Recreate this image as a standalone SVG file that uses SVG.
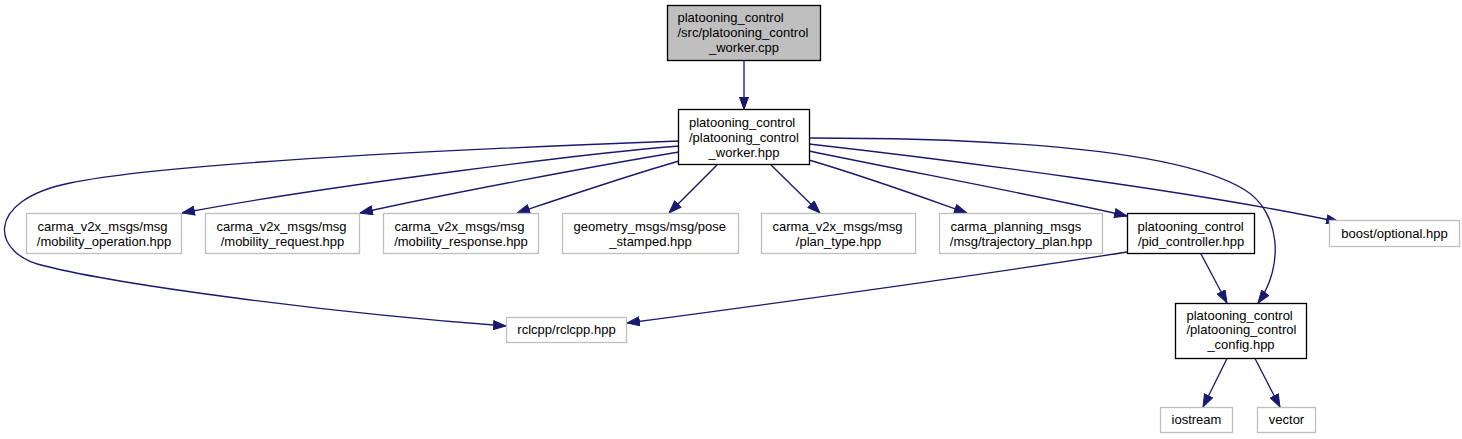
<svg xmlns="http://www.w3.org/2000/svg" width="1462" height="439" viewBox="0 0 1462 439">
<style>
  .n rect { fill: #ffffff; stroke: #000000; stroke-width: 1.33; }
  .n.g rect { stroke: #bfbfbf; }
  .n.root rect { fill: #bfbfbf; }
  text { font-family: "Liberation Sans", Arial, Helvetica, sans-serif; font-size: 13px; fill: #000000; }
  .s { text-anchor: start; }
  .m { text-anchor: middle; }
  #edges path { fill: none; stroke: #191970; stroke-width: 1.33; marker-end: url(#arr); }
</style>
<defs>
  <marker id="arr" markerUnits="userSpaceOnUse" markerWidth="13" markerHeight="10" viewBox="0 0 13 10" refX="13" refY="5" orient="auto">
    <path d="M0.5,0.5 L13,5 L0.5,9.5 Z" fill="#191970" stroke="#191970" stroke-width="1"/>
  </marker>
</defs>
<rect width="1462" height="439" fill="#ffffff"/>

<g id="edges">
  <path d="M744,61 L744,109.5"/>
  <path d="M679,141 C545,146 180,160 70,183 C-18,201 -8,255 45,266 C120,285 330,313 506,326"/>
  <path d="M679,146 C600,152 330,185 182,213"/>
  <path d="M679,152 C600,165 440,195 360,213"/>
  <path d="M679,161 C630,175 565,197 517,213"/>
  <path d="M717,165 L669,213"/>
  <path d="M771,165 L820,213"/>
  <path d="M809,160 C870,178 930,200 967,213"/>
  <path d="M809,151 C900,170 1050,198 1127,216"/>
  <path d="M809,144 C950,160 1200,192 1339,222"/>
  <path d="M809,138 C1000,138 1180,150 1245,190 C1280,212 1285,265 1258,303"/>
  <path d="M1127,252 C1000,272 800,300 627,323"/>
  <path d="M1201,254 L1227,303"/>
  <path d="M1227,358.5 L1203,407"/>
  <path d="M1255,358.5 L1280,407"/>
</g>

<g id="node_root" class="n root">
  <rect x="667.5" y="5.5" width="153" height="55"/>
  <text class="s" x="677.5" y="21.5">platooning_control</text>
  <text class="s" x="677.5" y="36.5">/src/platooning_control</text>
  <text class="m" x="744" y="51.5">_worker.cpp</text>
</g>
<g id="node_worker" class="n">
  <rect x="678.5" y="109.5" width="131" height="55"/>
  <text class="s" x="689" y="126.5">platooning_control</text>
  <text class="s" x="689" y="141.5">/platooning_control</text>
  <text class="m" x="744" y="156.5">_worker.hpp</text>
</g>
<g id="node_mob_op" class="n g">
  <rect x="26.5" y="213.5" width="155" height="40"/>
  <text class="s" x="37.5" y="230.5">carma_v2x_msgs/msg</text>
  <text class="m" x="104" y="245.5">/mobility_operation.hpp</text>
</g>
<g id="node_mob_req" class="n g">
  <rect x="205.5" y="213.5" width="154" height="40"/>
  <text class="s" x="216.5" y="230.5">carma_v2x_msgs/msg</text>
  <text class="m" x="282.5" y="245.5">/mobility_request.hpp</text>
</g>
<g id="node_mob_resp" class="n g">
  <rect x="383.5" y="213.5" width="155" height="40"/>
  <text class="s" x="394.5" y="230.5">carma_v2x_msgs/msg</text>
  <text class="m" x="461" y="245.5">/mobility_response.hpp</text>
</g>
<g id="node_geometry" class="n g">
  <rect x="562.5" y="213.5" width="176" height="40"/>
  <text class="s" x="573.5" y="230.5">geometry_msgs/msg/pose</text>
  <text class="m" x="650.5" y="245.5">_stamped.hpp</text>
</g>
<g id="node_plan_type" class="n g">
  <rect x="761.5" y="213.5" width="154" height="40"/>
  <text class="s" x="772.5" y="230.5">carma_v2x_msgs/msg</text>
  <text class="m" x="838.5" y="245.5">/plan_type.hpp</text>
</g>
<g id="node_trajectory" class="n g">
  <rect x="939.5" y="213.5" width="163" height="40"/>
  <text class="s" x="950.5" y="230.5">carma_planning_msgs</text>
  <text class="m" x="1021" y="245.5">/msg/trajectory_plan.hpp</text>
</g>
<g id="node_pid" class="n">
  <rect x="1127.5" y="213.5" width="127" height="40"/>
  <text class="s" x="1137.5" y="230.5">platooning_control</text>
  <text class="m" x="1191" y="245.5">/pid_controller.hpp</text>
</g>
<g id="node_boost" class="n g">
  <rect x="1329.5" y="220.5" width="130" height="26"/>
  <text class="m" x="1394.5" y="237.5">boost/optional.hpp</text>
</g>
<g id="node_rclcpp" class="n g">
  <rect x="506.5" y="317.5" width="120" height="25"/>
  <text class="m" x="566.5" y="334">rclcpp/rclcpp.hpp</text>
</g>
<g id="node_config" class="n">
  <rect x="1175.5" y="303.5" width="131" height="55"/>
  <text class="s" x="1186.5" y="319.5">platooning_control</text>
  <text class="s" x="1186.5" y="334">/platooning_control</text>
  <text class="m" x="1241" y="348.5">_config.hpp</text>
</g>
<g id="node_iostream" class="n g">
  <rect x="1160.5" y="407.5" width="72" height="25"/>
  <text class="m" x="1196.5" y="423.5">iostream</text>
</g>
<g id="node_vector" class="n g">
  <rect x="1257.5" y="407.5" width="58" height="25"/>
  <text class="m" x="1286.5" y="423.5">vector</text>
</g>
</svg>
